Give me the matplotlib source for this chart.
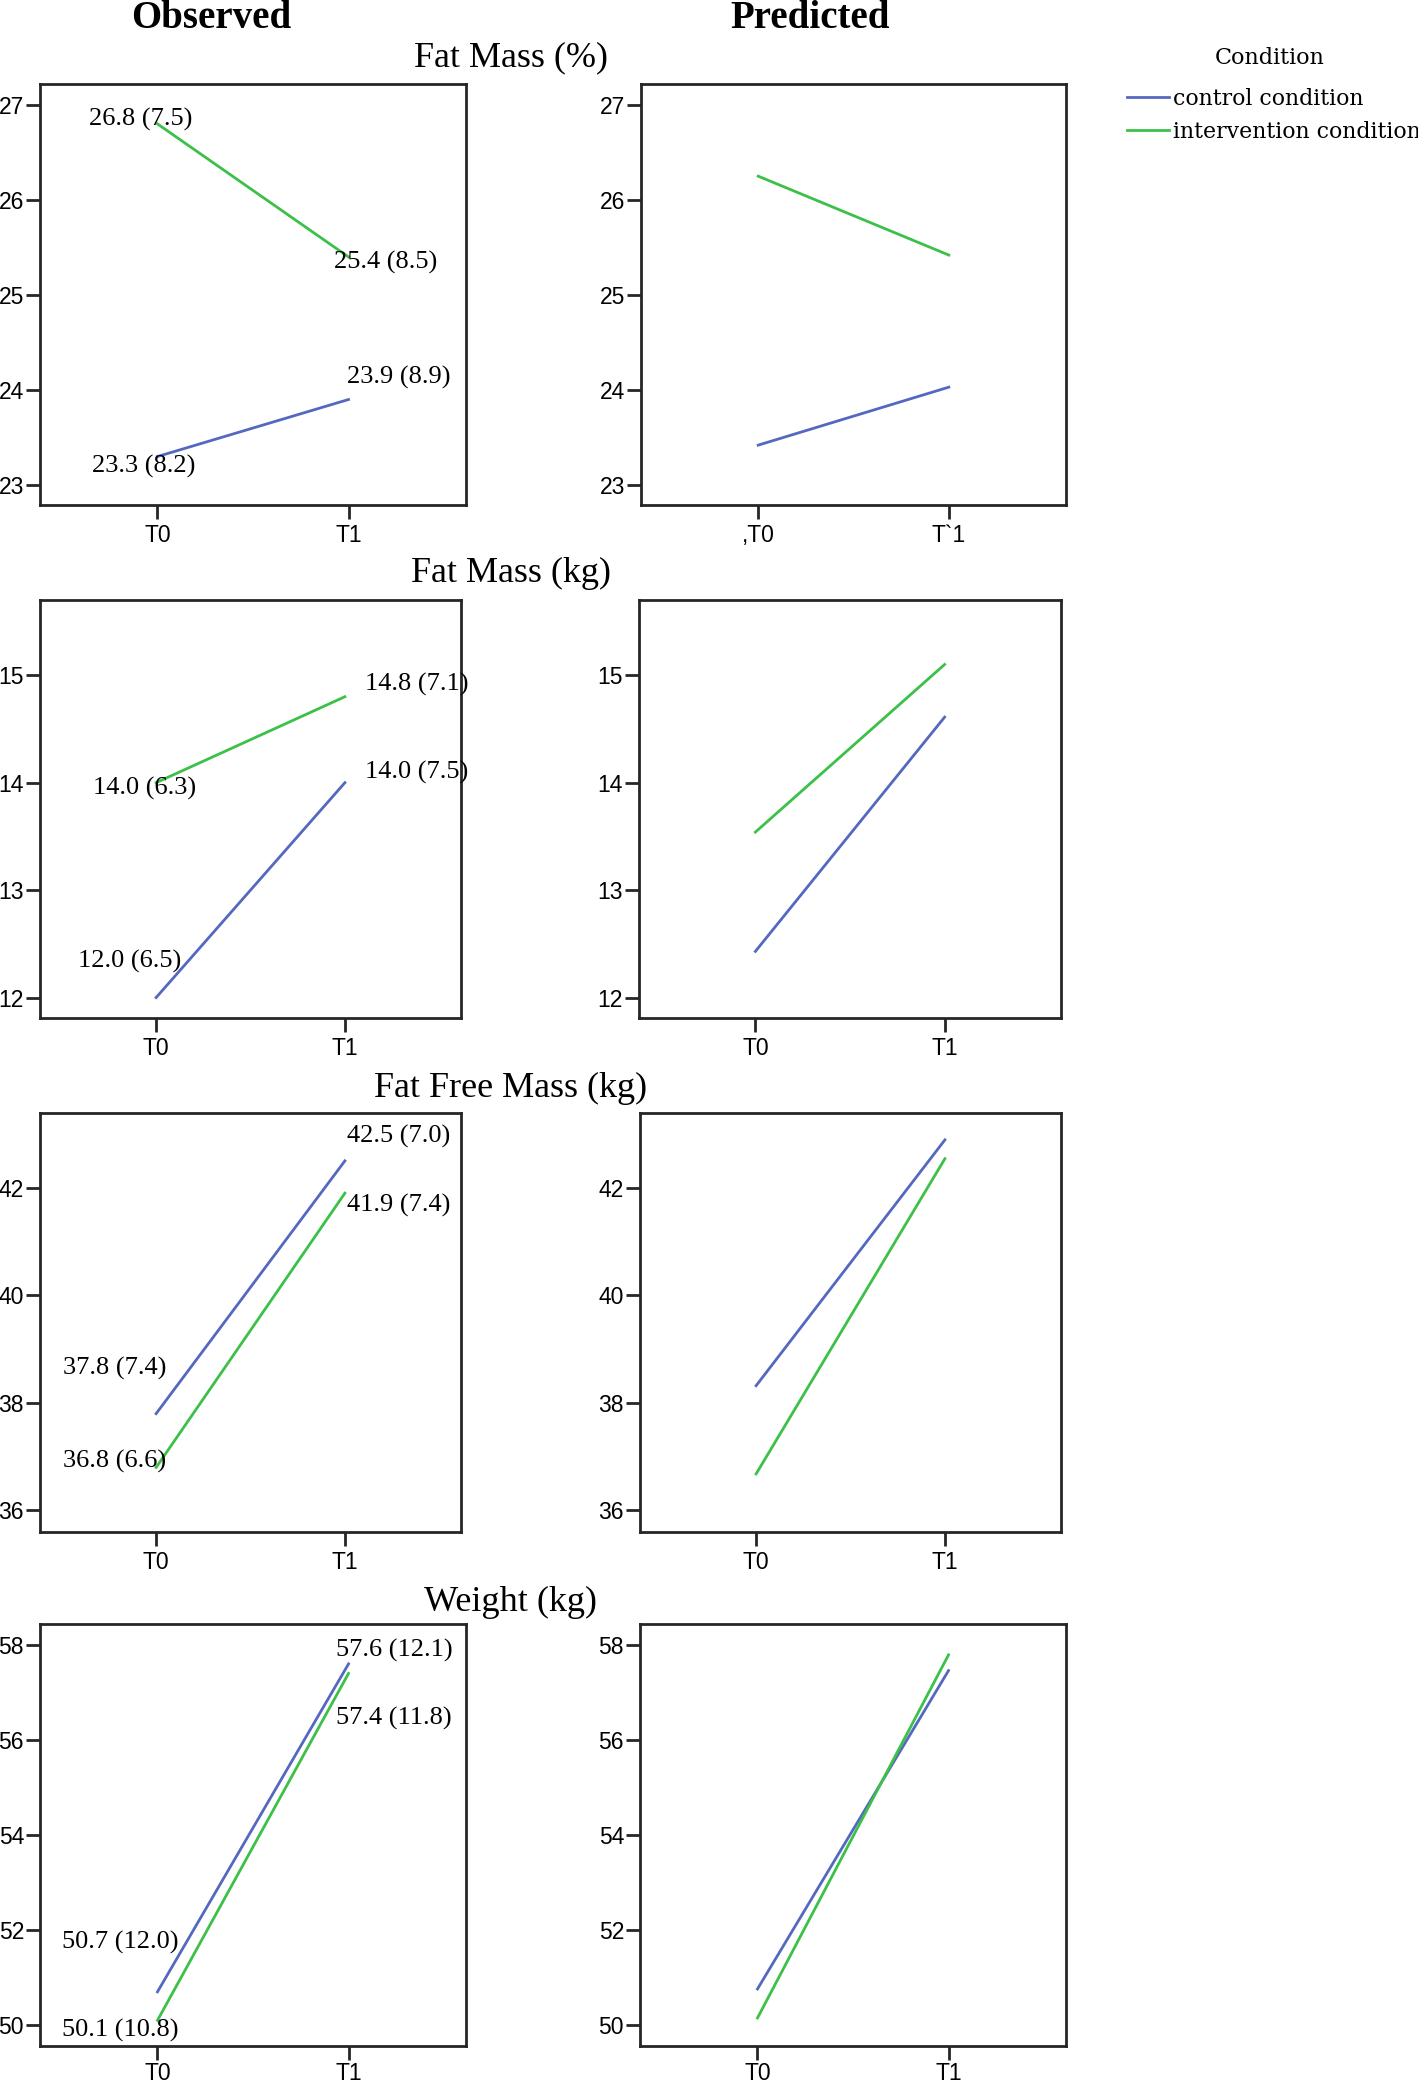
import matplotlib.pyplot as plt
from matplotlib import font_manager

# --- data -------------------------------------------------------------
timepoints = ['T0', 'T1']
pred_tick_labels = [[',T0', 'T`1'], ['T0', 'T1'], ['T0', 'T1'], ['T0', 'T1']]
measures = ['Fat Mass (%)', 'Fat Mass (kg)', 'Fat Free Mass (kg)', 'Weight (kg)']

obs_control = [[23.3, 23.9], [12.0, 14.0], [37.8, 42.5], [50.7, 57.6]]
obs_control_sd = [[8.2, 8.9], [6.5, 7.5], [7.4, 7.0], [12.0, 12.1]]
obs_interv = [[26.8, 25.4], [14.0, 14.8], [36.8, 41.9], [50.1, 57.4]]
obs_interv_sd = [[7.5, 8.5], [6.3, 7.1], [6.6, 7.4], [10.8, 11.8]]

pred_control = [[23.42, 24.03], [12.43, 14.61], [38.32, 42.89], [50.76, 57.46]]
pred_interv = [[26.25, 25.42], [13.54, 15.10], [36.68, 42.54], [50.15, 57.79]]

yticks = [[23, 24, 25, 26, 27], [12, 13, 14, 15], [36, 38, 40, 42], [50, 52, 54, 56, 58]]
ylims = [(22.79, 27.22), (11.81, 15.70), (35.60, 43.39), (49.56, 58.44)]

# --- layout (pixels) ---------------------------------------------------
W, H = 1418, 2086
boxes = [((40, 84, 466, 505), (641, 84, 1066, 505)),
         ((40, 600, 461, 1018), (639, 600, 1061, 1018)),
         ((40, 1113, 461, 1532), (640, 1113, 1061, 1532)),
         ((40, 1624, 466, 2046), (640, 1624, 1066, 2046))]
title_y = [58, 573, 1088, 1602]
xpad = [4, 4, 4, 1.5]

# label offsets in pixels (dx to left edge, dy up), [control T0, control T1, interv T0, interv T1]
label_off = [[(-65, -10), (-2, 22), (-68, 4), (-15, -5)],
             [(-78, 36), (20, 10), (-63, -6), (20, 12)],
             [(-93, 45), (2, 24), (-93, 6), (2, -12)],
             [(-95, 49), (-13, 13), (-95, -10), (-13, -45)]]

blue = '#5468c0'
green = '#3cc048'
frame = '#262626'
serif = 'Liberation Serif'
names = {f.name for f in font_manager.fontManager.ttflist}
tickfont = 'Liberation Sans Narrow' if 'Liberation Sans Narrow' in names else 'Liberation Sans'

fig = plt.figure(figsize=(W / 100, H / 100), dpi=100)


def add_ax(b):
    x0, y0, x1, y1 = b
    return fig.add_axes([x0 / W, 1 - y1 / H, (x1 - x0) / W, (y1 - y0) / H])


def style(ax, i, ticklabels):
    ax.set_xlim(-0.615, 1.615)
    ax.set_ylim(*ylims[i])
    ax.set_xticks([0, 1])
    ax.set_xticklabels(ticklabels)
    ax.set_yticks(yticks[i])
    for s in ax.spines.values():
        s.set_color(frame)
        s.set_linewidth(2.0)
    ax.tick_params(length=10, width=2, color=frame, labelsize=16.5, pad=1.5)
    ax.tick_params(axis='x', pad=xpad[i])
    for t in ax.get_xticklabels() + ax.get_yticklabels():
        t.set_family(tickfont)


x = [0, 1]
handles = None
for i in range(4):
    axo = add_ax(boxes[i][0])
    axp = add_ax(boxes[i][1])
    lc, = axo.plot(x, obs_control[i], color=blue, lw=2)
    li, = axo.plot(x, obs_interv[i], color=green, lw=2)
    axp.plot(x, pred_control[i], color=blue, lw=2)
    axp.plot(x, pred_interv[i], color=green, lw=2)
    handles = [lc, li]
    style(axo, i, timepoints)
    style(axp, i, pred_tick_labels[i])

    pts = [(0, obs_control[i][0], obs_control_sd[i][0]),
           (1, obs_control[i][1], obs_control_sd[i][1]),
           (0, obs_interv[i][0], obs_interv_sd[i][0]),
           (1, obs_interv[i][1], obs_interv_sd[i][1])]
    for (px, v, sd), off in zip(pts, label_off[i]):
        axo.annotate(f'{v:.1f} ({sd:.1f})', xy=(px, v), xytext=off,
                     textcoords='offset pixels', ha='left', va='center',
                     family=serif, fontsize=19, annotation_clip=False)

    fig.text(511 / W, 1 - title_y[i] / H, measures[i], ha='center', va='center',
             family=serif, fontsize=26)

fig.text(211 / W, 1 - 28 / H, 'Observed', ha='center', va='baseline',
         family=serif, fontsize=28, weight='bold')
fig.text(810 / W, 1 - 28 / H, 'Predicted', ha='center', va='baseline',
         family=serif, fontsize=28, weight='bold')

# legend: title placed separately to get the wide gap of the original
fig.text(1270 / W, 1 - 58 / H, 'Condition', ha='center', va='center',
         family='DejaVu Serif', fontsize=16)
fig.legend(handles, ['control condition', 'intervention condition'],
           loc='upper left', bbox_to_anchor=(1127 / W, 1 - 88 / H), frameon=False,
           prop={'family': 'DejaVu Serif', 'size': 15.8},
           handlelength=1.9, handletextpad=0.2, labelspacing=0.48,
           borderpad=0, borderaxespad=0)

fig.savefig('out.png', dpi=100)
